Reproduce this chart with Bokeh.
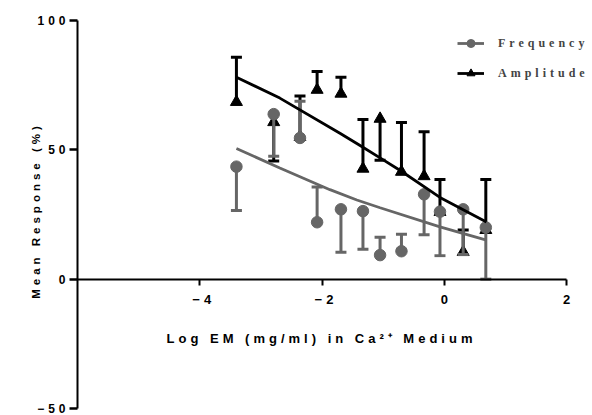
from bokeh.plotting import figure
from bokeh.models import (LinearAxis, FixedTicker, Legend, LegendItem,
                          ColumnDataSource, InlineStyleSheet)
from bokeh.embed import file_html
from bokeh.resources import INLINE

# ---------------- data ----------------
log_conc = [-3.4, -2.79, -2.36, -2.08, -1.69, -1.33, -1.05, -0.70, -0.33, -0.07, 0.31, 0.68]

freq_mean = [43.5, 63.8, 54.6, 22.0, 27.0, 26.3, 9.3, 10.8, 32.8, 26.1, 27.0, 20.0]
freq_err_end = [26.5, 47.5, 68.8, 35.6, 10.4, 11.6, 16.2, 17.4, 17.2, 9.1, 9.5, 0.0]

amp_mean = [68.5, 60.7, 55.0, 73.2, 71.7, 42.7, 62.0, 41.5, 39.8, 26.0, 10.5, 19.0]
amp_err_end = [85.8, 45.7, 70.8, 80.3, 78.1, 61.7, 46.0, 60.6, 57.0, 38.5, 19.0, 38.5]

amp_fit_x = [-3.4, -2.69, -1.70, -1.35, -1.05, -0.72, -0.07, 0.69]
amp_fit_y = [78.1, 70.0, 56.3, 51.3, 46.9, 42.0, 31.6, 22.1]

freq_fit_x = [-3.4, -2.69, -1.87, -1.43, -1.05, -0.07, 0.69]
freq_fit_y = [50.5, 43.0, 34.6, 30.6, 27.6, 20.2, 15.1]

x_ticks = [-4, -2, 0, 2]
y_ticks = [-50, 0, 50, 100]
x_bounds = (-6, 2)
y_bounds = (-50, 100)

x_title = "Log EM (mg/ml) in Ca\u00b2\u207a Medium"
y_title = "Mean Response (%)"
series_names = ["Frequency", "Amplitude"]

GRAY = "#666666"
BLACK = "#000000"

# ---------------- layout: frame covers the whole canvas ----------------
W, H = 592, 415
AX_LEFT, AX_RIGHT, AX_TOP, AX_BOTTOM = 77, 566, 20, 408   # pixel positions of the axis bounds
px_per_x = (AX_RIGHT - AX_LEFT) / (x_bounds[1] - x_bounds[0])
px_per_y = (AX_BOTTOM - AX_TOP) / (y_bounds[1] - y_bounds[0])
x_range = (x_bounds[0] - AX_LEFT / px_per_x, x_bounds[1] + (W - AX_RIGHT) / px_per_x)
y_range = (y_bounds[0] - (H - AX_BOTTOM) / px_per_y, y_bounds[1] + AX_TOP / px_per_y)

LS = 4  # letter spacing, px
TICK = 8

p = figure(width=W, height=H, x_range=x_range, y_range=y_range,
           x_axis_type=None, y_axis_type=None,
           output_backend="svg", toolbar_location=None, min_border=0)
p.outline_line_color = None
p.stylesheets = [InlineStyleSheet(css=":host { letter-spacing: %dpx; }" % LS)]


def style(ax):
    ax.axis_line_width = 2
    ax.axis_line_color = "black"
    ax.major_tick_line_width = 2
    ax.major_tick_line_color = "black"
    ax.major_tick_in = 0
    ax.major_tick_out = 6
    ax.minor_tick_in = 0
    ax.minor_tick_out = 0
    ax.major_label_text_font = "Liberation Sans"
    ax.major_label_text_font_style = "bold"
    ax.axis_label_text_font = "Liberation Sans"
    ax.axis_label_text_font_style = "bold"
    ax.major_label_text_color = "black"
    ax.axis_label_text_color = "black"


# main x axis (line, ticks, tick labels)
xaxis = LinearAxis(fixed_location=0, bounds=x_bounds, ticker=FixedTicker(ticks=x_ticks))
style(xaxis)
xaxis.major_label_text_font_size = "13px"
xaxis.major_label_standoff = 10
p.add_layout(xaxis, "below")

# main y axis (line and ticks; labels drawn by the grouped axes below)
yaxis = LinearAxis(fixed_location=x_bounds[0], bounds=y_bounds, ticker=FixedTicker(ticks=y_ticks))
style(yaxis)
yaxis.major_tick_out = TICK
yaxis.major_tick_line_width = 2.5
yaxis.major_label_text_font_size = "12px"
yaxis.major_label_text_alpha = 0
p.add_layout(yaxis, "left")

# y tick labels, grouped by label length so the letter-spaced labels stay right aligned
LABEL_RIGHT = 65.5
groups = {}
for t in y_ticks:
    groups.setdefault(len(str(t)), []).append(t)
for n, ticks in groups.items():
    lab_axis = LinearAxis(fixed_location=x_bounds[0], bounds=y_bounds,
                          ticker=FixedTicker(ticks=ticks))
    style(lab_axis)
    lab_axis.axis_line_color = None
    lab_axis.major_tick_line_color = None
    lab_axis.major_tick_out = TICK
    lab_axis.major_label_text_font_size = "12px"
    lab_axis.major_label_standoff = max(1, int(round(AX_LEFT - TICK - LABEL_RIGHT + (n - 1) * LS)))
    p.add_layout(lab_axis, "left")

# title-only axes (centred to compensate the letter spacing)
n_x = len(x_title) - 1
xt_c = x_bounds[0] + (319 - n_x * LS / 2 - AX_LEFT) / px_per_x
xtitle_axis = LinearAxis(fixed_location=0, bounds=(xt_c - 1, xt_c + 1),
                         ticker=FixedTicker(ticks=[]), axis_label=x_title)
style(xtitle_axis)
xtitle_axis.axis_line_color = None
xtitle_axis.major_tick_out = 0
xtitle_axis.axis_label_text_font_size = "13px"
xtitle_axis.axis_label_standoff = 51
p.add_layout(xtitle_axis, "below")

n_y = len(y_title) - 1
yt_c = y_bounds[1] - (212 + n_y * LS / 2 - AX_TOP) / px_per_y
ytitle_axis = LinearAxis(fixed_location=x_bounds[0], bounds=(yt_c - 5, yt_c + 5),
                         ticker=FixedTicker(ticks=[]), axis_label=y_title)
style(ytitle_axis)
ytitle_axis.axis_line_color = None
ytitle_axis.major_tick_out = 0
ytitle_axis.axis_label_text_font_size = "11.5px"
ytitle_axis.axis_label_standoff = 36
p.add_layout(ytitle_axis, "left")

# ---------------- error bars and points ----------------
amp_src = ColumnDataSource(dict(x=log_conc, y=amp_mean, e=amp_err_end))
freq_src = ColumnDataSource(dict(x=log_conc, y=freq_mean, e=freq_err_end))

p.segment(x0="x", y0="y", x1="x", y1="e", source=amp_src,
          line_color=BLACK, line_width=3)
p.scatter(x="x", y="e", source=amp_src, marker="dash", size=11,
          line_color=BLACK, line_width=3)
amp_pts = p.scatter(x="x", y="y", source=amp_src, marker="triangle", size=12,
                    fill_color=BLACK, line_color=BLACK)

p.segment(x0="x", y0="y", x1="x", y1="e", source=freq_src,
          line_color=GRAY, line_width=3)
p.scatter(x="x", y="e", source=freq_src, marker="dash", size=11,
          line_color=GRAY, line_width=3)
freq_pts = p.scatter(x="x", y="y", source=freq_src, marker="circle", size=11.5,
                     fill_color=GRAY, line_color=GRAY)

# ---------------- fitted curves ----------------
amp_line = p.line(amp_fit_x, amp_fit_y, line_color=BLACK, line_width=2.8)
freq_line = p.line(freq_fit_x, freq_fit_y, line_color=GRAY, line_width=2.8)

# ---------------- legend ----------------
legend = Legend(items=[
    LegendItem(label=series_names[0], renderers=[freq_line, freq_pts]),
    LegendItem(label=series_names[1], renderers=[amp_line, amp_pts]),
], location=(457, H - 83))
legend.padding = 0
legend.margin = 0
legend.spacing = 10
legend.glyph_width = 27
legend.glyph_height = 20
legend.label_height = 20
legend.label_standoff = 14
legend.label_text_font = "Liberation Serif"
legend.label_text_font_style = "bold"
legend.label_text_font_size = "12px"
legend.label_text_baseline = "middle"
legend.border_line_color = None
legend.background_fill_alpha = 0
p.add_layout(legend, "center")

open("out.html", "w").write(file_html(p, INLINE))
